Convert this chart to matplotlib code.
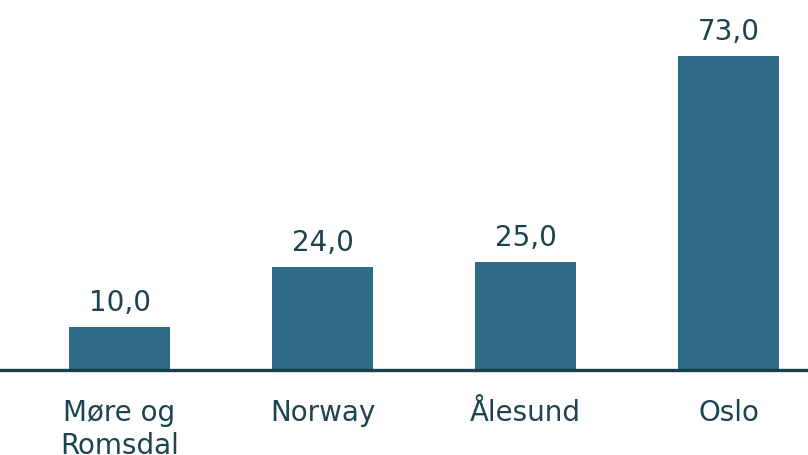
import matplotlib
matplotlib.use('Agg')
import matplotlib.pyplot as plt

# data
regions = ['Møre og\nRomsdal', 'Norway', 'Ålesund', 'Oslo']
values = [10.0, 24.0, 25.0, 73.0]

bar_color = '#2e6b87'
text_color = '#1b4350'

fig = plt.figure(figsize=(8.08, 4.56), dpi=100)
ax = fig.add_axes([0, 85/456, 1, 371/456])

x = list(range(len(regions)))
ax.bar(x, values, width=0.5, color=bar_color, zorder=2)

for xi, v in zip(x, values):
    ax.annotate(f'{v:.1f}'.replace('.', ','), (xi, v), xytext=(0, 8),
                textcoords='offset points', ha='center', va='bottom',
                fontsize=20, color=text_color)

ax.set_xlim(-0.589, 3.392)
ax.set_ylim(0, 86.2)
ax.set_xticks(x)
ax.set_xticklabels(regions, fontsize=20, color=text_color, linespacing=1.25)
ax.tick_params(axis='x', length=0, pad=20)
ax.set_yticks([])

for s in ['top', 'right', 'left']:
    ax.spines[s].set_visible(False)
ax.spines['bottom'].set_color('#173f4c')
ax.spines['bottom'].set_linewidth(2.4)

fig.savefig('out.png', dpi=100)
